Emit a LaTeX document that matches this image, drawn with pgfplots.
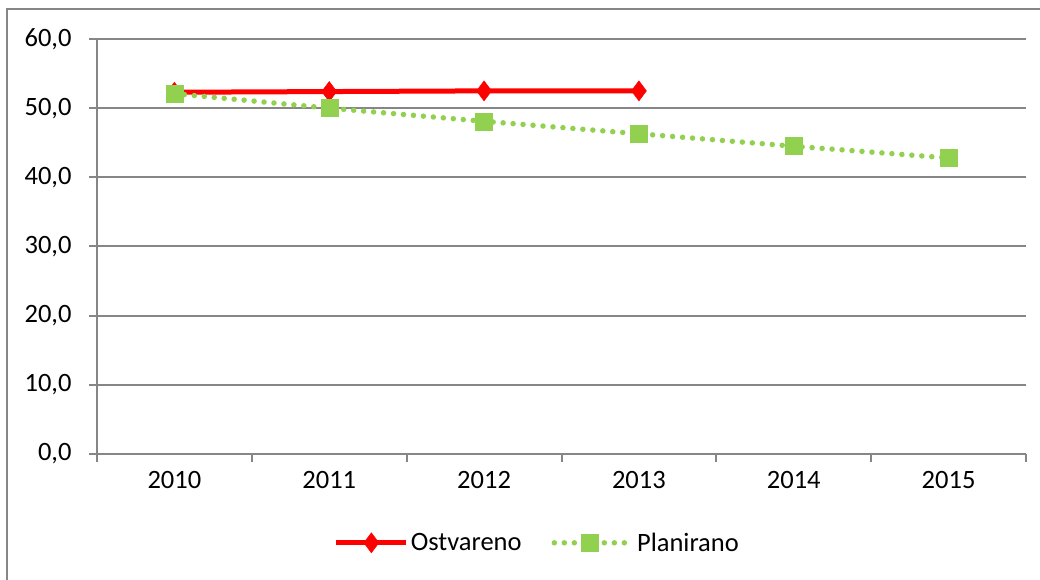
\documentclass[border=0pt]{standalone}
\usepackage{pgfplots}
\pgfplotsset{compat=1.18}
\usepackage{fontspec}
\setmainfont{Carlito}
\definecolor{gridgray}{HTML}{868686}
\definecolor{plangreen}{HTML}{92D050}
\definecolor{ostred}{HTML}{FF0000}
\begin{document}
\begin{tikzpicture}
\useasboundingbox (0,0) rectangle (1040bp,580bp);
\draw[gridgray, line width=1.8bp] (7bp,0) -- (7bp,571bp) -- (1040bp,571bp);
\begin{axis}[
  at={(97bp,126bp)}, anchor=south west,
  scale only axis, width=929bp, height=415bp,
  xmin=-0.5, xmax=5.5, ymin=0, ymax=60,
  axis x line*=bottom, axis y line*=left,
  axis line style={gridgray, line width=2bp},
  xtick={-0.5,0.5,1.5,2.5,3.5,4.5,5.5},
  xticklabels={2010,2011,2012,2013,2014,2015},
  x tick label as interval,
  ytick={0,10,20,30,40,50,60},
  ymajorgrids, grid style={gridgray, line width=2bp},
  tick align=outside, major tick length=8bp,
  tick style={gridgray, line width=2bp},
  ticklabel style={font=\fontsize{26.5bp}{30bp}\selectfont, text=black},
  /pgf/number format/assume math mode=true,
  yticklabel={\pgfmathprintnumber[fixed, fixed zerofill, precision=1, use comma]{\tick}},
  yticklabel style={xshift=-14bp},
  xticklabel style={yshift=-6bp},
  legend style={at={(0.474,-0.214)}, anchor=center, legend columns=2, draw=none,
    font=\fontsize{26.5bp}{30bp}\selectfont, /tikz/every even column/.append style={column sep=28bp}},
  legend cell align=left,
  legend image code/.code={\draw[mark repeat=2,mark phase=2] plot coordinates {(0bp,0bp)(35bp,0bp)(70bp,0bp)};},
  clip=false,
]
\addplot[ostred, line width=5bp, mark=diamond*, mark size=10bp, mark options={solid, line width=0.5bp, fill=ostred}]
  coordinates {(0,52.3) (1,52.4) (2,52.5) (3,52.5)};
\addlegendentry{Ostvareno}
\addplot[plangreen, line width=5.5bp, line cap=round, dash pattern=on 0bp off 10bp, mark=square*, mark size=8.5bp, mark options={solid, line width=0.5bp, fill=plangreen}]
  coordinates {(0,52.1) (1,50.0) (2,48.1) (3,46.3) (4,44.5) (5,42.8)};
\addlegendentry{\hspace{8bp}Planirano}
\end{axis}
\end{tikzpicture}
\end{document}
